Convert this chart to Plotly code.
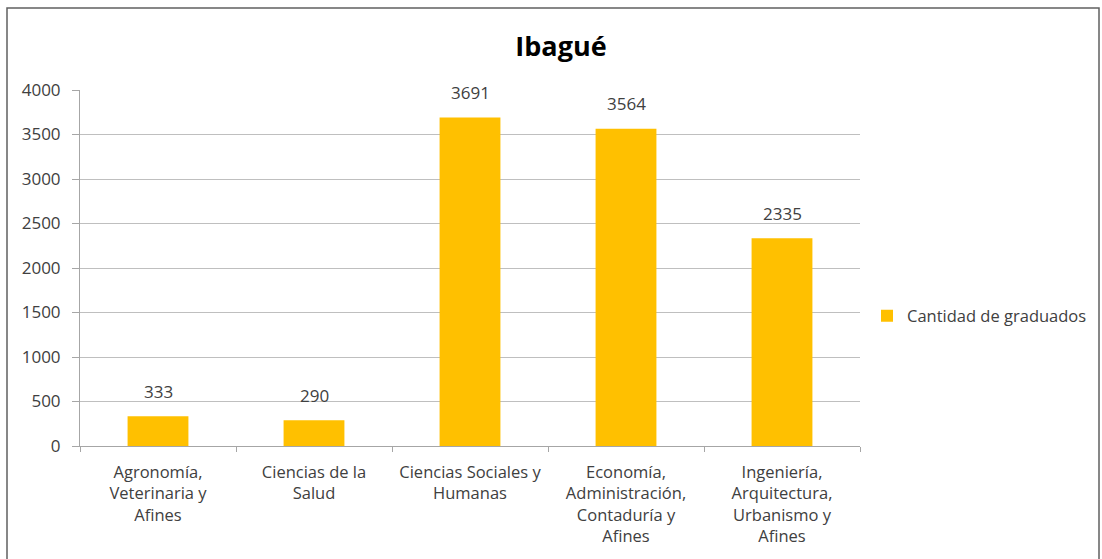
import plotly.graph_objects as go

categories = [
    "Agronomía,<br>Veterinaria y<br>Afines",
    "Ciencias de la<br>Salud",
    "Ciencias Sociales y<br>Humanas",
    "Economía,<br>Administración,<br>Contaduría y<br>Afines",
    "Ingeniería,<br>Arquitectura,<br>Urbanismo y<br>Afines",
]
values = [333, 290, 3691, 3564, 2335]
series_name = "Cantidad de graduados"
title = "Ibagué"

W, H = 1102, 559
L, R, T, B = 80, 242, 90, 113
pw, ph = W - L - R, H - T - B

def px(x):
    return (x - L) / pw

def py(y):
    return (H - B - y) / ph

font = "'Open Sans', sans-serif"
txt = "#404040"

fig = go.Figure(go.Bar(
    x=categories, y=values, name=series_name,
    marker=dict(color="#FFC000", line=dict(width=0)),
    showlegend=True,
))

for c, v in zip(categories, values):
    fig.add_annotation(x=c, y=v, text=str(v), showarrow=False,
                       yanchor="middle", yshift=25,
                       font=dict(size=17, color=txt, family=font))

fig.update_layout(
    width=W, height=H,
    margin=dict(l=L, r=R, t=T, b=B, pad=0, autoexpand=False),
    paper_bgcolor="white", plot_bgcolor="white",
    bargap=0.61,
    title=dict(text="<b>" + title + "</b>", x=561 / W, xref="container", xanchor="center",
               y=1 - 47 / H, yanchor="middle", font=dict(size=27, color="#000000", family=font)),
    font=dict(family=font, color=txt, size=17),
    showlegend=True,
    legend=dict(x=px(867), xanchor="left", y=py(316), yanchor="middle",
                font=dict(size=16.5, color=txt, family=font),
                itemwidth=30, bgcolor="rgba(0,0,0,0)"),
    shapes=[dict(type="rect", xref="paper", yref="paper",
                 x0=px(7), x1=px(1099), y0=py(565), y1=py(8),
                 line=dict(color="#606060", width=1.5), fillcolor="rgba(0,0,0,0)", layer="below")],
)

fig.update_xaxes(
    showline=True, linecolor="#A6A6A6", linewidth=1,
    ticks="outside", ticklen=5, tickcolor="#A6A6A6",
    tickson="boundaries",
    tickfont=dict(size=16.5, color=txt, family=font),
    ticklabelstandoff=11,
    showgrid=False,
)
fig.update_yaxes(
    range=[0, 4000], dtick=500, tick0=0,
    showline=True, linecolor="#A6A6A6", linewidth=1,
    ticks="outside", ticklen=7, tickcolor="#A6A6A6",
    showgrid=True, gridcolor="#BFBFBF", gridwidth=1,
    tickfont=dict(size=17, color=txt, family=font),
    ticklabelstandoff=8, zeroline=False,
)

fig.write_html("out.html", config={"displayModeBar": False},
               post_script="document.body.style.margin='0';")
